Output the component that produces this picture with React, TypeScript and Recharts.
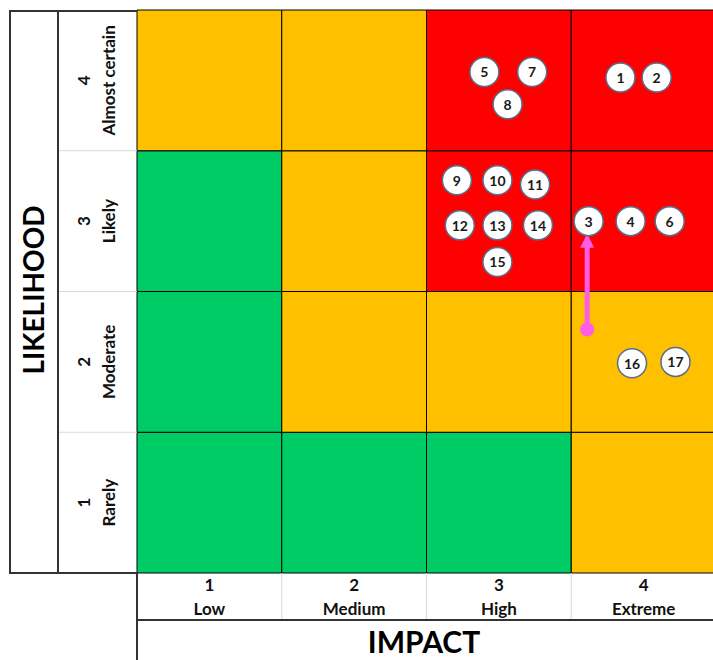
import React from 'react';
import { ScatterChart, Scatter, XAxis, YAxis, ReferenceArea, ReferenceLine, ReferenceDot } from 'recharts';

const impactLevels = ['Low', 'Medium', 'High', 'Extreme'];
const likelihoodLevels = ['Rarely', 'Moderate', 'Likely', 'Almost certain'];
const levelTicks = [1, 2, 3, 4];

// rating per cell: rows are likelihood 1..4, columns are impact 1..4
const cellRatings = [
  ['low', 'low', 'low', 'medium'],
  ['low', 'medium', 'medium', 'medium'],
  ['low', 'medium', 'high', 'high'],
  ['medium', 'medium', 'high', 'high'],
];

// risks placed inside their cells (impact, likelihood)
const riskIds = [1, 2, 3, 4, 5, 6, 7, 8, 9, 10, 11, 12, 13, 14, 15, 16, 17];
const riskImpact = [3.84, 4.09, 3.62, 3.91, 2.9, 4.18, 3.23, 3.06, 2.71, 2.99, 3.25, 2.73, 2.99, 3.27, 2.99, 3.92, 4.22];
const riskLikelihood = [4.02, 4.02, 3.0, 3.0, 4.06, 3.0, 4.06, 3.83, 3.29, 3.29, 3.26, 2.97, 2.97, 2.97, 2.71, 1.99, 2.0];

// movement of risk 3 (from -> to)
const moveImpact = [3.61, 3.61];
const moveLikelihood = [2.23, 2.91];

const ratingColors: Record<string, string> = { low: '#00CC66', medium: '#FFC000', high: '#FF0000' };
const arrowColor = '#FF5CE8';
const font = 'Lato, "Open Sans", sans-serif';

const W = 716;
const H = 660;
const LEFT = 57;
const TOP = 10;
const YW = 80;
const XH = 87;
const cellW = (W - LEFT - YW) / 4;
const cellH = (H - TOP - XH) / 4;

const risks = riskIds.map((id, i) => ({ id, impact: riskImpact[i], likelihood: riskLikelihood[i] }));

const ImpactTick = (props: any) => {
  const { x, y, payload } = props;
  const i = payload.value - 1;
  return (
    <g>
      {i < 3 && <line x1={x + cellW / 2} x2={x + cellW / 2} y1={y} y2={y + 47} stroke="#d9d9d9" />}
      <text x={x} y={y + 18} textAnchor="middle" fontFamily={font} fontWeight={700} fontSize={17} fill="#111">{payload.value}</text>
      <text x={x} y={y + 42} textAnchor="middle" fontFamily={font} fontWeight={700} fontSize={17} fill="#111">{impactLevels[i]}</text>
    </g>
  );
};

const LikelihoodTick = (props: any) => {
  const { x, y, payload } = props;
  const i = payload.value - 1;
  const x1 = x - 54;
  const x2 = x - 29;
  return (
    <g>
      {i < 3 && <line x1={x - YW} x2={x} y1={y - cellH / 2} y2={y - cellH / 2} stroke="#d9d9d9" />}
      <text x={x1} y={y} transform={`rotate(-90 ${x1} ${y})`} textAnchor="middle" dominantBaseline="central" fontFamily={font} fontWeight={700} fontSize={17} fill="#111">{payload.value}</text>
      <text x={x2} y={y} transform={`rotate(-90 ${x2} ${y})`} textAnchor="middle" dominantBaseline="central" fontFamily={font} fontWeight={700} fontSize={17} fill="#111">{likelihoodLevels[i]}</text>
    </g>
  );
};

const RiskBubble = (props: any) => {
  const { cx, cy, payload } = props;
  return (
    <g>
      <circle cx={cx} cy={cy} r={14.5} fill="#fff" stroke="#5a6e8c" strokeWidth={1.5} />
      <text x={cx} y={cy} textAnchor="middle" dominantBaseline="central" fontFamily={font} fontWeight={700} fontSize={14} fill="#1a1a1a">{payload.id}</text>
    </g>
  );
};

const ArrowHead = (props: any) => {
  const { cx, cy } = props;
  return <polygon points={`${cx},${cy} ${cx - 7},${cy + 14} ${cx + 7},${cy + 14}`} fill={arrowColor} />;
};

const line = (s: React.CSSProperties): React.CSSProperties => ({ position: 'absolute', background: '#333', ...s });

export default function App() {
  return (
    <div style={{ position: 'relative', width: 713, height: H, overflow: 'hidden', background: '#fff' }}>
      <style>{'body{margin:0;overflow:hidden}'}</style>
      <ScatterChart width={W} height={H} margin={{ top: TOP, right: 0, bottom: 0, left: LEFT }}>
        <XAxis type="number" dataKey="impact" domain={[0.5, 4.5]} ticks={levelTicks} height={XH}
          axisLine={false} tickLine={false} tickSize={0} tickMargin={0} tick={<ImpactTick />} interval={0} />
        <YAxis type="number" dataKey="likelihood" domain={[0.5, 4.5]} ticks={levelTicks} width={YW}
          axisLine={false} tickLine={false} tickSize={0} tickMargin={0} tick={<LikelihoodTick />} interval={0} />
        {cellRatings.map((row, li) =>
          row.map((rating, ii) => (
            <ReferenceArea key={`${li}-${ii}`} x1={ii + 0.5} x2={ii + 1.5} y1={li + 0.5} y2={li + 1.5}
              fill={ratingColors[rating]} fillOpacity={1} stroke="#000" strokeWidth={1} />
          ))
        )}
        <ReferenceLine segment={[{ x: moveImpact[0], y: moveLikelihood[0] }, { x: moveImpact[1], y: moveLikelihood[1] - 0.05 }]}
          stroke={arrowColor} strokeWidth={5} />
        <ReferenceDot x={moveImpact[0]} y={moveLikelihood[0]} r={7} fill={arrowColor} stroke="none" />
        <ReferenceDot x={moveImpact[1]} y={moveLikelihood[1]} shape={<ArrowHead />} />
        <Scatter data={risks} shape={<RiskBubble />} isAnimationActive={false} />
      </ScatterChart>
      <div style={{ position: 'absolute', inset: 0, pointerEvents: 'none' }}>
        <div style={line({ left: 9, top: TOP, width: 128, height: 1.5 })} />
        <div style={line({ left: 9, top: TOP, width: 1.5, height: 563 })} />
        <div style={line({ left: 57, top: TOP, width: 1.5, height: 563 })} />
        <div style={line({ left: 9, top: 572, width: 128, height: 1.5 })} />
        <div style={line({ left: 136, top: 573, width: 1.5, height: 87 })} />
        <div style={line({ left: 137, top: 619, width: 580, height: 1.5 })} />
        <div style={{ position: 'absolute', left: 33, top: 290, transform: 'translate(-50%,-50%) rotate(-90deg)', fontFamily: font, fontWeight: 700, fontSize: 28, color: '#000', whiteSpace: 'nowrap' }}>LIKELIHOOD</div>
        <div style={{ position: 'absolute', left: 424, top: 641, transform: 'translate(-50%,-50%)', fontFamily: font, fontWeight: 700, fontSize: 30, color: '#000', whiteSpace: 'nowrap' }}>IMPACT</div>
      </div>
    </div>
  );
}
